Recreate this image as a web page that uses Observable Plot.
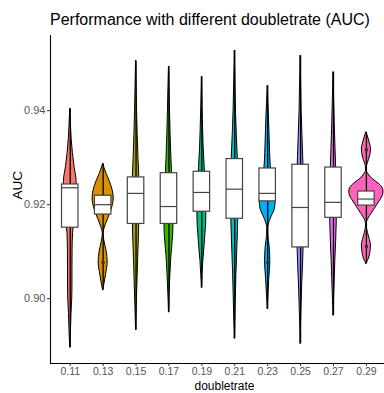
<!DOCTYPE html>
<html><head><meta charset="utf-8">
<script src="https://cdn.jsdelivr.net/npm/d3@7"></script>
<script src="https://cdn.jsdelivr.net/npm/@observablehq/plot@0.6"></script>
<style>
body{margin:0;background:#fff;font-family:"Liberation Sans",Arial,sans-serif;}
#title{height:23px;padding:10px 0 0 50px;font-size:16px;line-height:20px;color:#000;white-space:nowrap;}
#chart svg{display:block;}
</style></head><body>
<div id="title">Performance with different doubletrate (AUC)</div>
<div id="chart"></div>
<script>
// categories
const doubletrate = [0.11, 0.13, 0.15, 0.17, 0.19, 0.21, 0.23, 0.25, 0.27, 0.29];
// box statistics
const q1     = [0.9151, 0.9179, 0.9159, 0.9159, 0.9185, 0.9170, 0.9207, 0.9109, 0.9172, 0.9198];
const median = [0.9236, 0.9200, 0.9224, 0.9196, 0.9226, 0.9233, 0.9224, 0.9194, 0.9205, 0.9212];
const q3     = [0.9243, 0.9219, 0.9258, 0.9267, 0.9270, 0.9297, 0.9277, 0.9285, 0.9279, 0.9228];
const minAUC = [0.8896, 0.9018, 0.8933, 0.8971, 0.9023, 0.8915, 0.8978, 0.8904, 0.8964, 0.9074];
const maxAUC = [0.9404, 0.9287, 0.9506, 0.9494, 0.9472, 0.9528, 0.9453, 0.9517, 0.9482, 0.9354];
// violin density profiles: [AUC, relative density]
const violin011 = [[0.8896,0],[0.893,0.7],[0.897,1.3],[0.900,2],[0.903,2.2],[0.906,2.2],[0.910,2.3],[0.914,2.8],[0.918,5],[0.922,6.5],[0.925,6.3],[0.928,4.3],[0.931,2.6],[0.934,1.4],[0.937,0.7],[0.9404,0]];
const violin013 = [[0.9018,0],[0.903,1.2],[0.905,2.8],[0.9077,4.5],[0.910,3.5],[0.912,1.5],[0.9138,0.3],[0.915,1.5],[0.917,5],[0.919,8.5],[0.9213,10.5],[0.923,9.5],[0.925,6.5],[0.9265,3.5],[0.9277,1.5],[0.9287,0]];
const violin015 = [[0.8933,0],[0.898,0.6],[0.903,1.3],[0.908,2],[0.913,2.8],[0.918,3.4],[0.922,3.6],[0.926,3.2],[0.930,2.4],[0.935,1.6],[0.940,1],[0.945,0.5],[0.9506,0]];
const violin017 = [[0.8971,0],[0.901,0.6],[0.905,1.4],[0.909,2.4],[0.912,3.6],[0.915,4.4],[0.918,4.4],[0.922,4],[0.926,3.2],[0.930,2.4],[0.935,1.6],[0.940,1],[0.945,0.5],[0.9494,0]];
const violin019 = [[0.9023,0],[0.905,0.6],[0.908,1.4],[0.911,2.6],[0.914,3.6],[0.917,4.4],[0.920,4.4],[0.924,3.8],[0.928,2.8],[0.932,1.8],[0.936,1.2],[0.941,0.6],[0.9472,0]];
const violin021 = [[0.8915,0],[0.896,0.6],[0.900,1],[0.905,1.6],[0.910,2.4],[0.915,3.2],[0.920,3.6],[0.925,3.6],[0.930,3],[0.935,2],[0.940,1.2],[0.946,0.6],[0.9528,0]];
const violin023 = [[0.8978,0],[0.901,0.8],[0.904,1.5],[0.9077,2.6],[0.911,2],[0.9135,0.6],[0.9150,0.5],[0.917,3],[0.919,7],[0.921,8],[0.924,5.5],[0.927,3.5],[0.931,2.4],[0.935,1.8],[0.939,1.2],[0.942,0.6],[0.9453,0]];
const violin025 = [[0.8904,0],[0.895,0.5],[0.899,1],[0.903,1.6],[0.907,2.4],[0.911,3],[0.916,3.6],[0.921,3.6],[0.926,3.2],[0.930,2.6],[0.935,1.8],[0.940,1],[0.946,0.5],[0.9517,0]];
const violin027 = [[0.8964,0],[0.900,0.6],[0.904,1.2],[0.908,1.8],[0.912,2.6],[0.916,3.2],[0.920,3.4],[0.924,3.2],[0.928,2.6],[0.932,2],[0.936,1.4],[0.941,0.8],[0.9482,0]];
const violin029 = [[0.9074,0],[0.9085,2.5],[0.910,4],[0.9113,4.5],[0.9125,3.5],[0.914,1.5],[0.9155,0.4],[0.9162,0.5],[0.917,2],[0.918,5],[0.919,8],[0.920,11],[0.921,14],[0.922,16.5],[0.9228,17],[0.9236,16],[0.9245,12],[0.9255,6],[0.9265,2],[0.9272,0.4],[0.928,0.5],[0.9295,2.5],[0.931,4.3],[0.932,4.5],[0.933,3.5],[0.9345,1.5],[0.9354,0]];
const violins = [violin011, violin013, violin015, violin017, violin019, violin021, violin023, violin025, violin027, violin029];
// visible data dots
const dotRate = [0.13, 0.23, 0.29, 0.29];
const dotAUC  = [0.9077, 0.9077, 0.9317, 0.9111];
// tick labels
const yTicks = [0.90, 0.92, 0.94];

// styles
const palette = ["#F8766D","#D89000","#A3A500","#39B600","#00BF7D","#00BFC4","#00B0F6","#9590FF","#E76BF3","#FF62BC"];
const xDomain = [0.098, 0.301];
const yDomain = [0.8862, 0.956];
const violinHalf = 0.0104;
const boxHalf = 0.005;

const violinRows = [];
violins.forEach((prof, i) => prof.forEach(([v, w]) => violinRows.push({dr: doubletrate[i], v, w})));
const maxW = d3.max(violinRows, d => d.w);
const boxRows = doubletrate.map((dr, i) => ({dr, q1: q1[i], med: median[i], q3: q3[i], lo: minAUC[i], hi: maxAUC[i]}));
const dotRows = dotRate.map((dr, i) => ({dr, v: dotAUC[i]}));

const chart = Plot.plot({
  width: 384, height: 360,
  marginLeft: 50, marginRight: 0, marginTop: 2, marginBottom: 30,
  style: {fontFamily: "Liberation Sans, Arial, sans-serif", fontSize: "11px", background: "#fff", color: "#000"},
  x: {domain: xDomain},
  y: {domain: yDomain},
  color: {type: "ordinal", domain: doubletrate, range: palette},
  marks: [
    Plot.areaX(violinRows, {
      y: "v",
      x1: d => d.dr - d.w / maxW * violinHalf,
      x2: d => d.dr + d.w / maxW * violinHalf,
      z: "dr", fill: "dr", stroke: "#000", strokeWidth: 1, curve: "monotone-y"
    }),
    Plot.ruleX(boxRows, {x: "dr", y1: "lo", y2: "hi", stroke: "#000", strokeWidth: 1.3}),
    Plot.rect(boxRows, {x1: d => d.dr - boxHalf, x2: d => d.dr + boxHalf, y1: "q1", y2: "q3", fill: "#fff", stroke: "#444", strokeWidth: 1.2}),
    Plot.ruleY(boxRows, {y: "med", x1: d => d.dr - boxHalf, x2: d => d.dr + boxHalf, stroke: "#444", strokeWidth: 1.2}),
    Plot.dot(dotRows, {x: "dr", y: "v", r: 1.8, fill: "#333"}),
    Plot.ruleX([xDomain[0]], {stroke: "#000", strokeWidth: 1.1}),
    Plot.ruleY([yDomain[0]], {stroke: "#000", strokeWidth: 1.1}),
    Plot.axisX(doubletrate, {tickFormat: d3.format(".2f"), tickSize: 3, tickPadding: 1.5, label: null, stroke: "#333", color: "#555", fontSize: 10.5}),
    Plot.axisY(yTicks, {tickFormat: d3.format(".2f"), tickSize: 3, tickPadding: 2, label: null, stroke: "#333", color: "#555", fontSize: 11}),
    Plot.text(["AUC"], {frameAnchor: "left", rotate: -90, dx: -33, fontSize: 13.5, fill: "#000"}),
    Plot.text(["doubletrate"], {frameAnchor: "bottom", lineAnchor: "middle", dy: 23, dx: 7, fontSize: 12, fill: "#000"})
  ]
});
document.getElementById("chart").appendChild(chart);
</script>
</body></html>
